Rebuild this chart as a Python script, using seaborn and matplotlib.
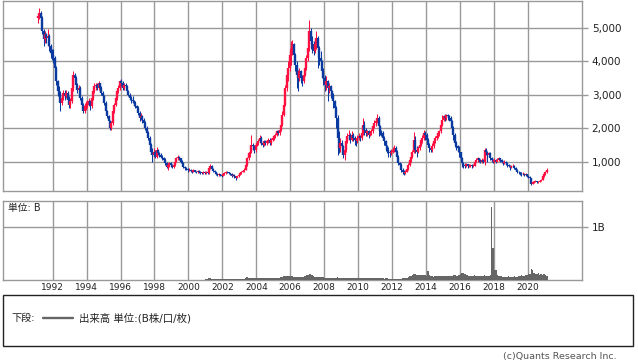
import numpy as np
import pandas as pd
import matplotlib
matplotlib.use("Agg")
import matplotlib.pyplot as plt
import seaborn as sns
from matplotlib.patches import Rectangle
from matplotlib.lines import Line2D

# ---------------- data (monthly, Feb 1991 .. Feb 2021) ----------------
first_year, first_month = 1991, 2
first_open = 5300

close = [
    5350, 5450, 5300, 4900, 4650, 4800, 4700, 4750, 4450, 4250, 4200,            # 1991
    4100, 3800, 3400, 3100, 3000, 2750, 2900, 3050, 2950, 3050, 2850, 2700,      # 1992
    2800, 3200, 3600, 3500, 3300, 3150, 3200, 2900, 2700, 2500, 2650, 2700,      # 1993
    2700, 2800, 2650, 2900, 3100, 3250, 3300, 3200, 3350, 3200, 3050, 2950,      # 1994
    2750, 2500, 2350, 2200, 2000, 2150, 2500, 2700, 2900, 3100, 3200, 3400,      # 1995
    3350, 3200, 3300, 3250, 3100, 3000, 2900, 2850, 2800, 2750, 2650, 2600,      # 1996
    2450, 2300, 2350, 2250, 2150, 2000, 1850, 1700, 1500, 1300, 1200, 1300,      # 1997
    1150, 1350, 1250, 1200, 1150, 1100, 1050, 950, 850, 900, 950, 900,           # 1998
    850, 900, 1000, 1100, 1150, 1100, 1000, 950, 850, 800, 780, 750,             # 1999
    760, 720, 700, 740, 700, 690, 720, 700, 680, 660, 690, 670,                  # 2000
    680, 650, 800, 880, 780, 720, 680, 640, 600, 620, 600, 580,                  # 2001
    620, 660, 700, 680, 650, 630, 580, 600, 560, 520, 560, 600,                  # 2002
    650, 700, 720, 760, 900, 1100, 1250, 1300, 1500, 1450, 1350, 1500,           # 2003
    1550, 1600, 1700, 1550, 1500, 1600, 1550, 1600, 1650, 1550, 1650, 1700,      # 2004
    1750, 1800, 1900, 1850, 1950, 2100, 2400, 2700, 3200, 3600, 3800, 4200,      # 2005
    4300, 4500, 4200, 3900, 3600, 3500, 3700, 3500, 3400, 3600, 3800, 4100,      # 2006
    4400, 4900, 4600, 4500, 4300, 4500, 4700, 4400, 4100, 4000, 3700, 3500,      # 2007
    3300, 3400, 3200, 3250, 3100, 3000, 2800, 2600, 2300, 1700, 1400, 1550,      # 2008
    1450, 1200, 1350, 1600, 1750, 1800, 1650, 1800, 1700, 1650, 1600, 1700,      # 2009
    1750, 1700, 1850, 2100, 1950, 1850, 1900, 1800, 1850, 1900, 2050, 2150,      # 2010
    2200, 2300, 2050, 1900, 1850, 1700, 1600, 1450, 1350, 1300, 1250, 1300,      # 2011
    1350, 1400, 1300, 1150, 950, 900, 750, 700, 650, 700, 780, 900,              # 2012
    1050, 1150, 1300, 1650, 1350, 1300, 1400, 1500, 1650, 1700, 1850, 1800,      # 2013
    1650, 1500, 1400, 1350, 1450, 1600, 1700, 1750, 1850, 1900, 2100, 2250,      # 2014
    2350, 2300, 2400, 2350, 2300, 2200, 2000, 1800, 1550, 1450, 1400, 1300,      # 2015
    1100, 950, 900, 880, 920, 870, 880, 900, 860, 880, 1000, 1050,               # 2016
    1100, 1050, 1000, 1050, 1000, 1350, 1300, 1200, 1250, 1100, 1050, 1000,      # 2017
    1050, 1000, 1050, 1100, 1050, 1000, 950, 1000, 950, 900, 880, 850,           # 2018
    870, 880, 820, 760, 700, 680, 650, 620, 640, 600, 620, 560,                  # 2019
    540, 500, 330, 380, 400, 420, 380, 400, 420, 450, 560, 620,                  # 2020
    680, 760,                                                                    # 2021
]

high = [
    5450, 5600, 5500, 5350, 4950, 4900, 4850, 4950, 4800, 4500, 4350,
    4350, 4150, 3850, 3450, 3250, 3100, 3000, 3150, 3150, 3150, 3100, 2950,
    2900, 3300, 3700, 3650, 3550, 3350, 3300, 3250, 2950, 2750, 2750, 2800,
    2850, 2900, 2850, 2950, 3200, 3350, 3350, 3350, 3400, 3350, 3250, 3100,
    3000, 2800, 2550, 2400, 2250, 2200, 2550, 2750, 2950, 3150, 3300, 3450,
    3480, 3400, 3350, 3350, 3300, 3150, 3050, 2950, 2950, 2850, 2800, 2700,
    2650, 2500, 2450, 2400, 2300, 2200, 2050, 1900, 1750, 1550, 1400, 1400,
    1350, 1430, 1380, 1300, 1250, 1200, 1150, 1100, 1000, 950, 1000, 1000,
    920, 950, 1050, 1150, 1200, 1180, 1120, 1050, 980, 880, 850, 820,
    800, 790, 750, 780, 760, 730, 750, 740, 720, 700, 720, 710,
    720, 700, 830, 920, 900, 800, 740, 700, 660, 650, 640, 620,
    640, 690, 730, 720, 700, 670, 650, 620, 620, 580, 580, 620,
    680, 730, 760, 800, 950, 1150, 1300, 1450, 1780, 1550, 1500, 1550,
    1620, 1680, 1800, 1750, 1600, 1650, 1650, 1650, 1700, 1700, 1700, 1750,
    1800, 1850, 1950, 1950, 2000, 2150, 2500, 2800, 3300, 3750, 4000, 4400,
    4600, 4620, 4550, 4250, 4000, 3750, 3800, 3750, 3600, 3700, 3900, 4200,
    4450, 5230, 5000, 4750, 4600, 4700, 4900, 4750, 4450, 4300, 4050, 3800,
    3600, 3550, 3450, 3350, 3300, 3150, 3050, 2850, 2650, 2400, 1900, 1700,
    1650, 1500, 1450, 1700, 1850, 1950, 1850, 1900, 1850, 1750, 1700, 1780,
    1850, 1800, 1950, 2290, 2200, 2000, 1950, 1950, 1900, 1980, 2150, 2250,
    2300, 2430, 2350, 2100, 1950, 1900, 1750, 1650, 1500, 1430, 1350, 1380,
    1420, 1480, 1450, 1350, 1200, 1000, 950, 800, 750, 750, 820, 950,
    1100, 1250, 1350, 1870, 1750, 1450, 1450, 1600, 1700, 1800, 1930, 1900,
    1850, 1700, 1550, 1450, 1550, 1650, 1750, 1800, 1900, 1950, 2150, 2380,
    2400, 2420, 2420, 2420, 2400, 2350, 2250, 2050, 1850, 1600, 1500, 1450,
    1300, 1150, 980, 950, 960, 940, 920, 940, 930, 920, 1050, 1100,
    1150, 1120, 1080, 1100, 1080, 1390, 1390, 1320, 1300, 1280, 1150, 1080,
    1100, 1080, 1100, 1150, 1120, 1080, 1030, 1040, 1020, 980, 920, 900,
    900, 920, 900, 830, 780, 720, 700, 680, 680, 650, 650, 630,
    590, 560, 520, 420, 430, 450, 430, 420, 440, 480, 580, 660,
    720, 800,
]

low = [
    5150, 5250, 5150, 4800, 4450, 4550, 4550, 4450, 4300, 4100, 4050,
    3950, 3700, 3300, 2950, 2900, 2500, 2700, 2850, 2850, 2900, 2750, 2600,
    2600, 2750, 3100, 3400, 3200, 3050, 3050, 2850, 2600, 2450, 2450, 2550,
    2600, 2650, 2550, 2600, 2850, 3050, 3150, 3150, 3150, 3150, 3000, 2900,
    2700, 2450, 2300, 2100, 1950, 1950, 2100, 2450, 2650, 2850, 3050, 3150,
    3250, 3150, 3150, 3150, 3050, 2950, 2850, 2750, 2750, 2650, 2600, 2500,
    2400, 2200, 2250, 2150, 2050, 1950, 1800, 1650, 1450, 1250, 1000, 1150,
    1100, 1100, 1200, 1150, 1100, 1050, 1000, 900, 800, 750, 850, 850,
    800, 820, 880, 980, 1050, 1050, 950, 900, 820, 760, 740, 700,
    720, 700, 660, 680, 680, 650, 670, 670, 640, 620, 640, 640,
    640, 620, 640, 780, 760, 700, 660, 610, 560, 580, 570, 540,
    560, 600, 640, 660, 620, 600, 550, 560, 520, 440, 510, 550,
    590, 630, 680, 700, 740, 880, 1050, 1150, 1250, 1350, 1250, 1300,
    1450, 1500, 1550, 1500, 1430, 1450, 1500, 1500, 1550, 1500, 1500, 1600,
    1650, 1700, 1750, 1800, 1800, 1900, 2050, 2350, 2650, 3100, 3400, 3700,
    3900, 4200, 4100, 3700, 3200, 3100, 3400, 3350, 3250, 3350, 3550, 3750,
    4000, 4300, 4350, 4250, 4200, 4250, 4350, 3800, 3900, 3800, 3500, 3300,
    3100, 3150, 2800, 3050, 2900, 2850, 2600, 2400, 2000, 1200, 1250, 1300,
    1300, 1100, 1050, 1300, 1550, 1650, 1550, 1600, 1600, 1500, 1450, 1550,
    1650, 1600, 1650, 1800, 1800, 1750, 1750, 1700, 1750, 1800, 1850, 2000,
    2050, 2150, 1750, 1800, 1750, 1650, 1500, 1330, 1250, 1150, 1150, 1200,
    1250, 1300, 1250, 1050, 900, 800, 700, 620, 590, 620, 680, 760,
    880, 1000, 1100, 1250, 1250, 1150, 1250, 1350, 1450, 1550, 1650, 1650,
    1550, 1450, 1300, 1300, 1300, 1400, 1550, 1650, 1700, 1750, 1850, 2050,
    2200, 2200, 2250, 2250, 2200, 2100, 1900, 1650, 1430, 1350, 1300, 1150,
    1000, 850, 820, 820, 850, 820, 840, 850, 820, 830, 870, 980,
    1000, 1000, 950, 970, 950, 900, 1200, 1000, 1150, 1050, 980, 950,
    970, 950, 980, 1030, 1000, 950, 900, 930, 900, 850, 830, 760,
    800, 840, 790, 720, 660, 640, 610, 580, 600, 560, 580, 530,
    510, 470, 290, 320, 360, 380, 350, 360, 390, 410, 440, 550,
    600, 650,
]

volume_b = [
    0.008, 0.008, 0.008, 0.008, 0.008, 0.008, 0.008, 0.008, 0.008, 0.008, 0.008,                # 1991
    0.008, 0.008, 0.008, 0.008, 0.008, 0.008, 0.008, 0.008, 0.008, 0.008, 0.008, 0.008,         # 1992
    0.008, 0.008, 0.008, 0.008, 0.008, 0.008, 0.008, 0.008, 0.008, 0.008, 0.008, 0.008,         # 1993
    0.008, 0.008, 0.008, 0.008, 0.008, 0.008, 0.008, 0.008, 0.008, 0.008, 0.008, 0.008,         # 1994
    0.008, 0.008, 0.008, 0.008, 0.008, 0.008, 0.008, 0.008, 0.008, 0.008, 0.008, 0.008,         # 1995
    0.008, 0.008, 0.008, 0.008, 0.008, 0.008, 0.008, 0.008, 0.008, 0.008, 0.008, 0.008,         # 1996
    0.008, 0.008, 0.008, 0.008, 0.008, 0.008, 0.008, 0.008, 0.008, 0.008, 0.008, 0.008,         # 1997
    0.008, 0.008, 0.008, 0.008, 0.008, 0.008, 0.008, 0.008, 0.008, 0.008, 0.008, 0.008,         # 1998
    0.008, 0.008, 0.008, 0.008, 0.008, 0.008, 0.008, 0.008, 0.008, 0.008, 0.008, 0.008,         # 1999
    0.008, 0.008, 0.008, 0.008, 0.008, 0.008, 0.008, 0.008, 0.008, 0.008, 0.008, 0.008,         # 2000
    0.01, 0.01, 0.03, 0.04, 0.02, 0.01, 0.01, 0.01, 0.01, 0.01, 0.01, 0.01,                     # 2001
    0.01, 0.01, 0.01, 0.01, 0.01, 0.01, 0.01, 0.01, 0.01, 0.01, 0.01, 0.01,                     # 2002
    0.01, 0.01, 0.02, 0.02, 0.04, 0.05, 0.04, 0.03, 0.04, 0.03, 0.03, 0.03,                     # 2003
    0.04, 0.03, 0.04, 0.03, 0.03, 0.03, 0.03, 0.03, 0.04, 0.03, 0.04, 0.04,                     # 2004
    0.04, 0.04, 0.04, 0.04, 0.04, 0.05, 0.05, 0.07, 0.08, 0.08, 0.07, 0.07,                     # 2005
    0.07, 0.07, 0.06, 0.06, 0.06, 0.06, 0.05, 0.05, 0.05, 0.06, 0.07, 0.09,                     # 2006
    0.10, 0.12, 0.11, 0.09, 0.07, 0.06, 0.06, 0.06, 0.05, 0.05, 0.05, 0.05,                     # 2007
    0.04, 0.04, 0.04, 0.04, 0.03, 0.03, 0.03, 0.03, 0.04, 0.05, 0.04, 0.03,                     # 2008
    0.04, 0.03, 0.04, 0.03, 0.03, 0.03, 0.03, 0.03, 0.03, 0.03, 0.03, 0.03,                     # 2009
    0.03, 0.03, 0.04, 0.04, 0.03, 0.03, 0.03, 0.03, 0.03, 0.03, 0.03, 0.03,                     # 2010
    0.03, 0.04, 0.04, 0.03, 0.03, 0.03, 0.02, 0.03, 0.03, 0.02, 0.02, 0.02,                     # 2011
    0.02, 0.02, 0.02, 0.02, 0.02, 0.02, 0.02, 0.03, 0.03, 0.03, 0.04, 0.05,                     # 2012
    0.07, 0.08, 0.10, 0.11, 0.11, 0.10, 0.10, 0.10, 0.10, 0.09, 0.10, 0.09,                     # 2013
    0.08, 0.17, 0.10, 0.07, 0.07, 0.06, 0.07, 0.07, 0.08, 0.07, 0.07, 0.08,                     # 2014
    0.07, 0.07, 0.08, 0.08, 0.07, 0.07, 0.08, 0.09, 0.10, 0.08, 0.08, 0.09,                     # 2015
    0.11, 0.13, 0.13, 0.12, 0.10, 0.09, 0.08, 0.08, 0.08, 0.08, 0.09, 0.08,                     # 2016
    0.08, 0.08, 0.08, 0.08, 0.08, 0.09, 0.08, 0.08, 0.08, 0.10, 1.38, 0.61,                     # 2017
    0.19, 0.19, 0.10, 0.08, 0.07, 0.07, 0.06, 0.06, 0.06, 0.06, 0.07, 0.06,                     # 2018
    0.06, 0.06, 0.07, 0.06, 0.06, 0.07, 0.08, 0.09, 0.08, 0.08, 0.09, 0.10,                     # 2019
    0.11, 0.12, 0.20, 0.18, 0.13, 0.11, 0.12, 0.13, 0.10, 0.11, 0.10, 0.12,                     # 2020
    0.10, 0.08,                                                                                 # 2021
]

year_ticks = list(range(1992, 2021, 2))
price_ticks = [1000, 2000, 3000, 4000, 5000]
volume_ticks = [1]
volume_tick_labels = ["1B"]

# ---------------- derived arrays ----------------
n = len(close)
month_index = np.arange(n) + (first_month - 1)
x = first_year + (month_index + 0.5) / 12.0
x_start = first_year + month_index[0] / 12.0
x_end = first_year + (month_index[-1] + 1) / 12.0
c = np.array(close, dtype=float)
o = np.concatenate([[first_open], c[:-1]])
h = np.array(high, dtype=float)
l = np.array(low, dtype=float)
up = c >= o
RED, BLUE = "#ff1040", "#0a3aa0"
cols = np.where(up, RED, BLUE)
vol_df = pd.DataFrame({"t": x, "vol": volume_b})

# ---------------- figure ----------------
sns.set_theme(style="white")
plt.rcParams["font.family"] = ["DejaVu Sans", "Noto Sans CJK JP"]
W, H = 638, 362
fig = plt.figure(figsize=(W / 100, H / 100), dpi=100)
fig.patch.set_facecolor("white")

def fx(px):
    return px / W

def fy(py):
    return 1 - py / H

GRID = "#999999"
ax = fig.add_axes([fx(3), fy(190.5), fx(579), 190 / H])
axv = fig.add_axes([fx(3), fy(280), fx(579), 79 / H])

# volume panel (seaborn weighted histogram = one bar per month)
sns.histplot(data=vol_df, x="t", weights="vol", binwidth=1 / 12,
             binrange=(x_start, x_end), ax=axv, color="#666666",
             alpha=1, linewidth=0, zorder=3)

for a in (ax, axv):
    a.set_xlim(1989.07, 2023.2)
    for s in a.spines.values():
        s.set_color(GRID)
        s.set_linewidth(1)
    a.set_xticks(year_ticks)
    a.grid(True, color=GRID, linewidth=1)
    a.set_axisbelow(True)
    a.yaxis.tick_right()
    a.tick_params(axis="y", length=4.5, width=1, color=GRID, pad=2.5,
                  labelsize=7.5, labelcolor="#222222")
    a.tick_params(axis="x", length=0)
    a.set_xlabel("")
    a.set_ylabel("")

# price panel
ax.set_ylim(134, 5815)
ax.set_yticks(price_ticks)
ax.set_yticklabels([f"{v:,}" for v in price_ticks])
ax.set_xticklabels([])
ax.vlines(x, l, h, colors=cols, linewidth=0.75, zorder=3)
ax.vlines(x, np.minimum(o, c), np.maximum(o, c), colors=cols, linewidth=1.7, zorder=3)

axv.set_ylim(0, 1.49)
axv.set_yticks(volume_ticks)
axv.set_yticklabels(volume_tick_labels)
axv.set_xticklabels([str(y) for y in year_ticks])
axv.tick_params(axis="x", labelsize=6.5, pad=2.5, labelcolor="#222222")

fig.text(fx(8), fy(203), "単位: B", fontsize=7, va="top", ha="left", color="#222222")

# legend box
fig.patches.append(Rectangle((fx(3), fy(346)), fx(630), 51 / H, transform=fig.transFigure,
                             fill=False, edgecolor="#222222", linewidth=1))
fig.text(fx(11), fy(318), "下段:", fontsize=7.3, va="center", ha="left", color="#222222")
fig.lines.append(Line2D([fx(43), fx(73)], [fy(318), fy(318)], transform=fig.transFigure,
                        color="#666666", linewidth=1.7))
fig.text(fx(79), fy(318), "出来高 単位:(B株/口/枚)", fontsize=7.5, va="center", ha="left",
         color="#222222")
fig.text(fx(617), fy(356), "(c)Quants Research Inc.", fontsize=6.8, va="center", ha="right",
         color="#555555")

fig.savefig("out.png", dpi=100)
